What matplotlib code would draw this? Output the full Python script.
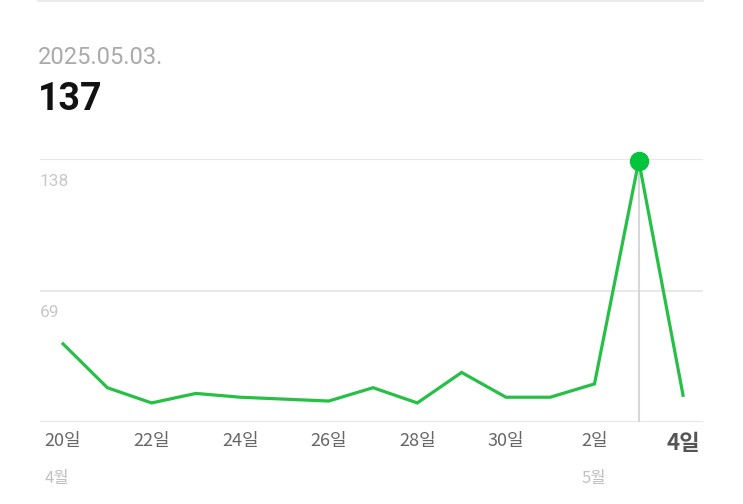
import matplotlib
matplotlib.use("Agg")
import matplotlib.pyplot as plt
import matplotlib.transforms as mtransforms

# データ
days = ["20일", "21일", "22일", "23일", "24일", "25일", "26일", "27일", "28일",
        "29일", "30일", "1일", "2일", "3일", "4일"]
values = [41, 18, 10, 15, 13, 12, 11, 18, 10, 26, 13, 13, 20, 137, 14]
tick_idx = [0, 2, 4, 6, 8, 10, 12, 14]
month_labels = {0: "4월", 12: "5월"}
y_ticks = [69, 138]
selected = 13
date_text = "2025.05.03."
value_text = "137"

plt.rcParams["font.family"] = ["Noto Sans CJK KR", "DejaVu Sans"]

fig = plt.figure(figsize=(7.43, 5.04), dpi=100)
ax = fig.add_axes([40 / 743, 82 / 504, 663 / 743, 263 / 504])

x = list(range(len(values)))
ax.plot(x, values, color="#25c045", lw=2.3, solid_joinstyle="miter", zorder=3)
ax.plot([selected], [values[selected]], "o", color="#03c43c", ms=13, clip_on=False, zorder=4)
ax.plot([selected, selected], [0, values[selected]], color="#d6d6d6", lw=1.5, zorder=2)

trans = mtransforms.blended_transform_factory(ax.transAxes, ax.transData)
for v in y_ticks:
    ax.axhline(v, color="#e8e8e8", lw=1.5, zorder=1)
    ax.annotate(str(v), (0, v), xycoords=trans, xytext=(0, -10.5), textcoords="offset points",
                ha="left", va="top", color="#c8c8c8", fontsize=12.5, family="Roboto")
ax.axhline(0, color="#e3e3e3", lw=2, zorder=1)

ax.set_xlim(-0.52, 14.45)
ax.set_ylim(0, 138)
for s in ax.spines.values():
    s.set_visible(False)
ax.set_yticks([])
ax.set_xticks(tick_idx)
ax.set_xticklabels([days[i] for i in tick_idx])
ax.tick_params(axis="x", length=0, pad=7, labelsize=13, labelcolor="#666666")
last = ax.get_xticklabels()[-1]
last.set_fontweight("bold")
last.set_fontsize(16)
last.set_color("#555555")

# 월 라벨 (일 라벨 왼쪽에 맞춤)
fig.canvas.draw()
labels = ax.get_xticklabels()
for i, m in month_labels.items():
    bb = labels[tick_idx.index(i)].get_window_extent()
    fig.text(bb.x0 / 743, 25 / 504, m, ha="left", va="center", color="#c0c0c0", fontsize=12)

# 상단
fig.add_artist(plt.Line2D([38 / 743, 703 / 743], [503 / 504, 503 / 504], color="#ececec", lw=1.5))
fig.text(38 / 743, (504 - 57) / 504, date_text, ha="left", va="center", color="#aaaaaa",
         fontsize=17, family="Roboto")
fig.text(38 / 743, (504 - 100) / 504, value_text, ha="left", va="center", color="#111111",
         fontsize=27, fontweight="bold", family="Roboto")

fig.savefig("out.png", dpi=100, facecolor="white")
